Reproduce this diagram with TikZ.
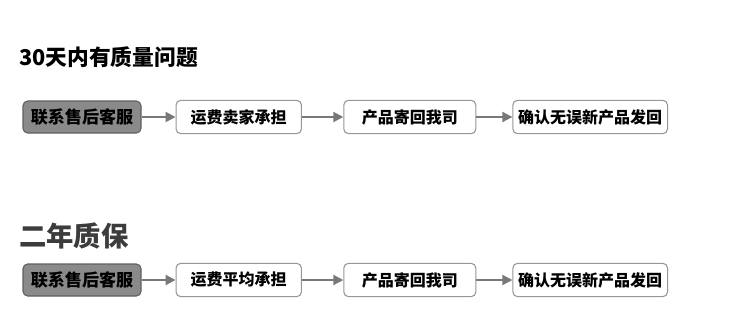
\documentclass[tikz,border=0pt]{standalone}
\usepackage{fontspec}
\setmainfont{Noto Sans CJK SC}
\usetikzlibrary{arrows.meta,positioning}
\definecolor{darkfill}{RGB}{138,138,138}
\definecolor{darkborder}{RGB}{96,96,96}
\definecolor{lightborder}{RGB}{150,150,150}
\definecolor{arrowgray}{RGB}{120,120,120}
\definecolor{titlegray}{RGB}{60,60,60}

\begin{document}
\begin{tikzpicture}[
    x=0.75pt, y=-0.75pt,
    font=\bfseries\fontsize{12}{14}\selectfont,
    startbox/.style={draw=darkborder, fill=darkfill, rounded corners=3.5pt, thick, align=center, minimum height=24pt, inner sep=2pt, font=\bfseries\fontsize{12.8}{14}\selectfont},
    stepbox/.style={draw=lightborder, fill=white, rounded corners=3.5pt, thick, align=center, minimum height=25pt, inner sep=2pt},
    arr/.style={-{Triangle[length=7.5pt,width=7.5pt]}, line width=1.5pt, draw=arrowgray, fill=arrowgray},
    heading/.style={anchor=west, inner sep=0pt}
]
\useasboundingbox (0,0) rectangle (750,332);

% Section 1: 30 days
\node[heading, font=\bfseries\fontsize{16.3}{18}\selectfont] (title1) at (19,57) {30天内有质量问题};

\node[startbox, minimum width=88.5pt] (contact1) at (82,117) {联系售后客服};
\node[stepbox, minimum width=94pt, right=25.5pt of contact1] (ship1) {运费卖家承担};
\node[stepbox, minimum width=99pt, right=31pt of ship1] (return1) {产品寄回我司};
\node[stepbox, minimum width=116pt, right=27pt of return1] (resend1) {确认无误新产品发回};

\draw[arr] (contact1) -- (ship1);
\draw[arr] (ship1) -- (return1);
\draw[arr] (return1) -- (resend1);

% Section 2: two-year warranty
\node[heading, font=\bfseries\fontsize{20.5}{22}\selectfont, text=titlegray] (title2) at (19,236) {二年质保};

\node[startbox, minimum width=88.5pt] (contact2) at (82,280) {联系售后客服};
\node[stepbox, minimum width=94pt, right=25.5pt of contact2] (ship2) {运费平均承担};
\node[stepbox, minimum width=99pt, right=31pt of ship2] (return2) {产品寄回我司};
\node[stepbox, minimum width=116pt, right=27pt of return2] (resend2) {确认无误新产品发回};

\draw[arr] (contact2) -- (ship2);
\draw[arr] (ship2) -- (return2);
\draw[arr] (return2) -- (resend2);

\end{tikzpicture}
\end{document}
